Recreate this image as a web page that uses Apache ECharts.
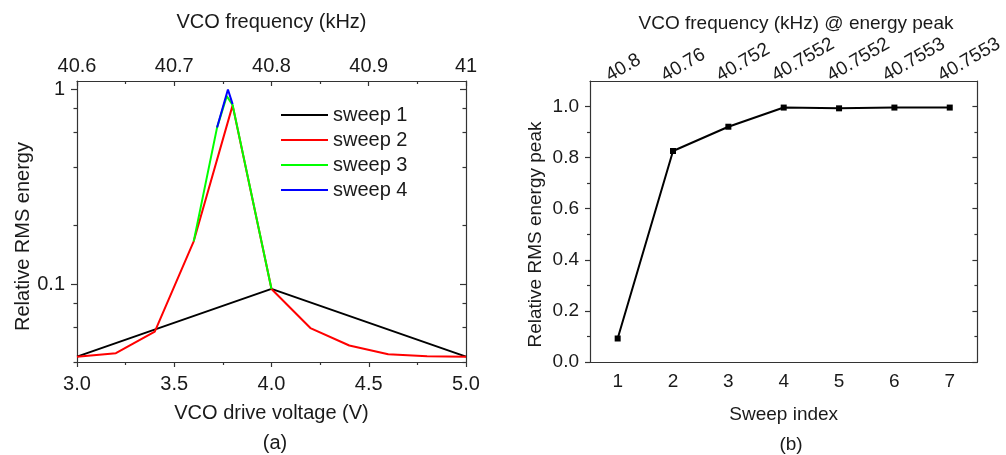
<!DOCTYPE html>
<html>
<head>
<meta charset="utf-8">
<script src="https://cdn.jsdelivr.net/npm/echarts@6/dist/echarts.min.js"></script>
<style>
  html, body { margin: 0; padding: 0; background: #fff; }
  #chart { width: 1006px; height: 455px; }
</style>
</head>
<body>
<div id="chart"></div>
<script>
// (a) relative RMS energy vs VCO drive voltage, one array pair per sweep
const sweep1Volt = [3.0, 4.0, 5.0];
const sweep1Energy = [0.0426, 0.0947, 0.0426];
const sweep2Volt = [3.0, 3.2, 3.4, 3.6, 3.8, 4.0, 4.2, 4.4, 4.6, 4.8, 5.0];
const sweep2Energy = [0.0426, 0.0444, 0.0573, 0.166, 0.825, 0.0947, 0.0597, 0.0486, 0.0438, 0.0428, 0.0426];
const sweep3Volt = [3.6, 3.72, 3.77, 3.8, 4.0];
const sweep3Energy = [0.166, 0.635, 0.92, 0.83, 0.0947];
const sweep4Volt = [3.72, 3.776, 3.8];
const sweep4Energy = [0.635, 0.995, 0.837];

const energyMajorTicks = [0.1, 1];
const energyMinorTicks = [0.04, 0.06, 0.08, 0.2, 0.4, 0.6, 0.8];

// (b) peak energy per sweep
const sweepIndex = ['1', '2', '3', '4', '5', '6', '7'];
const peakFreq = ['40.8', '40.76', '40.752', '40.7552', '40.7552', '40.7553', '40.7553'];
const peakEnergy = [0.092, 0.826, 0.921, 0.996, 0.993, 0.996, 0.996];
const peakTicks = [0, 0.2, 0.4, 0.6, 0.8, 1.0];

const FONT = 'Liberation Sans';
const INK = '#1a1a1a';
const AXIS = '#333';

function pairs(xs, ys) {
  return xs.map((x, i) => [x, ys[i]]);
}

function logAxis(pos, ticks, tickLen, inside, showLine, showLabel) {
  return {
    type: 'log', gridIndex: 0, position: pos, min: 0.04, max: 1.1,
    axisLine: { show: showLine, onZero: false, lineStyle: { color: AXIS, width: 1.2 } },
    axisTick: { show: true, inside: inside, length: tickLen, customValues: ticks,
      lineStyle: { color: AXIS, width: 1.2 } },
    axisLabel: { show: showLabel, customValues: ticks, margin: 12,
      fontFamily: FONT, fontSize: 20, color: INK },
    splitLine: { show: false }
  };
}

const chart = echarts.init(document.getElementById('chart'));

let option = {
  animation: false,
  backgroundColor: '#fff',
  textStyle: { fontFamily: FONT },
  title: [
    { text: '(a)', left: 270, top: 428, textAlign: 'center',
      textStyle: { fontFamily: FONT, fontSize: 20, fontWeight: 'normal', color: INK } },
    { text: '(b)', left: 786, top: 430, textAlign: 'center',
      textStyle: { fontFamily: FONT, fontSize: 19, fontWeight: 'normal', color: INK } },
    { text: 'VCO frequency (kHz) @ energy peak', left: 791, top: 9, textAlign: 'center',
      textStyle: { fontFamily: FONT, fontSize: 19, fontWeight: 'normal', color: INK } }
  ],
  legend: {
    left: 276, top: 100, orient: 'vertical', icon: 'rect',
    itemWidth: 47, itemHeight: 2, itemGap: 5,
    data: ['sweep 1', 'sweep 2', 'sweep 3', 'sweep 4'],
    textStyle: { fontFamily: FONT, fontSize: 20, color: INK }
  },
  grid: [
    { left: 77, top: 81, width: 389, height: 281 },
    { left: 590, top: 81, width: 390, height: 281 }
  ],
  xAxis: [
    {
      type: 'value', gridIndex: 0, position: 'bottom', min: 3, max: 5, interval: 0.5,
      name: 'VCO drive voltage (V)', nameLocation: 'middle', nameGap: 41,
      nameTextStyle: { fontFamily: FONT, fontSize: 20, color: INK },
      axisLine: { onZero: false, lineStyle: { color: AXIS, width: 1.2 } },
      axisTick: { length: 5, lineStyle: { color: AXIS, width: 1.2 } },
      minorTick: { show: true, splitNumber: 2, length: 3, lineStyle: { color: AXIS, width: 1.2 } },
      axisLabel: { margin: 12, fontFamily: FONT, fontSize: 20, color: INK,
        formatter: v => v.toFixed(1) },
      splitLine: { show: false }
    },
    {
      type: 'value', gridIndex: 0, position: 'top', min: 40.6, max: 41, interval: 0.1,
      name: 'VCO frequency (kHz)', nameLocation: 'middle', nameGap: 49,
      nameTextStyle: { fontFamily: FONT, fontSize: 20, color: INK },
      axisLine: { onZero: false, lineStyle: { color: AXIS, width: 1.2 } },
      axisTick: { inside: true, length: 5, lineStyle: { color: AXIS, width: 1.2 } },
      minorTick: { show: true, splitNumber: 2, length: 3, lineStyle: { color: AXIS, width: 1.2 } },
      axisLabel: { margin: 5, fontFamily: FONT, fontSize: 20, color: INK },
      splitLine: { show: false }
    },
    {
      type: 'category', gridIndex: 1, position: 'bottom', data: sweepIndex,
      name: 'Sweep index', nameLocation: 'middle', nameGap: 43,
      nameTextStyle: { fontFamily: FONT, fontSize: 19, color: INK },
      axisLine: { onZero: false, lineStyle: { color: AXIS, width: 1.2 } },
      axisTick: { alignWithLabel: true, length: 5, lineStyle: { color: AXIS, width: 1.2 } },
      axisLabel: { margin: 10, fontFamily: FONT, fontSize: 19, color: INK },
      splitLine: { show: false }
    },
    {
      type: 'category', gridIndex: 1, position: 'top', data: peakFreq,
      axisLine: { onZero: false, lineStyle: { color: AXIS, width: 1.2 } },
      axisTick: { alignWithLabel: true, inside: true, length: 5, lineStyle: { color: AXIS, width: 1.2 } },
      axisLabel: { rotate: -30, align: 'left', verticalAlign: 'middle', margin: 10,
        padding: [0, 0, 0, -12], interval: 0,
        fontFamily: FONT, fontSize: 19, color: INK },
      splitLine: { show: false }
    }
  ],
  yAxis: [
    Object.assign(logAxis('left', energyMajorTicks, 6, false, true, true), {
      name: 'Relative RMS energy', nameLocation: 'middle', nameGap: 44,
      nameTextStyle: { fontFamily: FONT, fontSize: 20, color: INK, padding: [0, 30, 0, 0] }
    }),
    logAxis('left', energyMinorTicks, 3.5, false, false, false),
    logAxis('right', energyMajorTicks, 6, true, true, false),
    logAxis('right', energyMinorTicks, 3.5, true, false, false),
    {
      type: 'value', gridIndex: 1, position: 'left', min: 0, max: 1.1,
      name: 'Relative RMS energy peak', nameLocation: 'middle', nameGap: 45,
      nameTextStyle: { fontFamily: FONT, fontSize: 19, color: INK, padding: [0, 26, 0, 0] },
      axisLine: { show: true, onZero: false, lineStyle: { color: AXIS, width: 1.2 } },
      axisTick: { show: true, length: 5, customValues: peakTicks, lineStyle: { color: AXIS, width: 1.2 } },
      minorTick: { show: true, splitNumber: 2, length: 3, lineStyle: { color: AXIS, width: 1.2 } },
      axisLabel: { margin: 11, customValues: peakTicks, fontFamily: FONT, fontSize: 19, color: INK,
        formatter: v => v.toFixed(1) },
      splitLine: { show: false }
    },
    {
      type: 'value', gridIndex: 1, position: 'right', min: 0, max: 1.1,
      axisLine: { show: true, onZero: false, lineStyle: { color: AXIS, width: 1.2 } },
      axisTick: { show: true, inside: true, length: 5, customValues: peakTicks, lineStyle: { color: AXIS, width: 1.2 } },
      minorTick: { show: true, splitNumber: 2, length: 3, lineStyle: { color: AXIS, width: 1.2 } },
      axisLabel: { show: false },
      splitLine: { show: false }
    }
  ],
  series: [
    { name: 'sweep 1', type: 'line', xAxisIndex: 0, yAxisIndex: 0, symbol: 'none',
      color: '#000000', lineStyle: { width: 2 }, data: pairs(sweep1Volt, sweep1Energy) },
    { name: 'sweep 2', type: 'line', xAxisIndex: 0, yAxisIndex: 0, symbol: 'none',
      color: '#ff0000', lineStyle: { width: 2 }, data: pairs(sweep2Volt, sweep2Energy) },
    { name: 'sweep 3', type: 'line', xAxisIndex: 0, yAxisIndex: 0, symbol: 'none',
      color: '#00ff00', lineStyle: { width: 2 }, data: pairs(sweep3Volt, sweep3Energy) },
    { name: 'sweep 4', type: 'line', xAxisIndex: 0, yAxisIndex: 0, symbol: 'none',
      color: '#0000ff', lineStyle: { width: 2 }, data: pairs(sweep4Volt, sweep4Energy) },
    { name: 'peak', type: 'line', xAxisIndex: 2, yAxisIndex: 4,
      symbol: 'rect', symbolSize: 6, color: '#000000',
      lineStyle: { width: 2 }, data: peakEnergy }
  ]
};

chart.setOption(option);
</script>
</body>
</html>
